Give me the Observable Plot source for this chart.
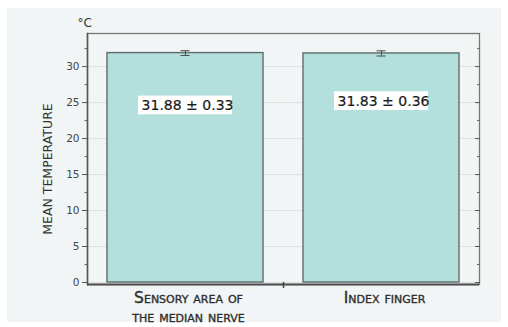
<!DOCTYPE html>
<html>
<head>
<meta charset="utf-8">
<script src="https://cdn.jsdelivr.net/npm/d3@7"></script>
<script src="https://cdn.jsdelivr.net/npm/@observablehq/plot@0.6"></script>
<style>
  html, body { margin: 0; padding: 0; background: #ffffff; }
  #wrap { position: relative; width: 508px; height: 327px; overflow: hidden; }
  #panel { position: absolute; left: 7px; top: 8px; width: 494px; height: 314px; background: #f2f5f5; }
  #chart { position: absolute; left: 0; top: 0; }
  #chart svg { background: transparent !important; }
</style>
</head>
<body>
<div id="wrap"><div id="panel"></div><div id="chart"></div></div>
<script>
// Mean skin temperature (°C) ± SD at two measurement sites
const categories = ["Sensory area of\nthe median nerve", "Index finger"];
const means = [31.88, 31.83];
const sds = [0.33, 0.36];
// vertical position (°C) of each value box inside its bar
const labelAt = [24.6, 25.2];
const yMajor = [0, 5, 10, 15, 20, 25, 30];
const yMinor = [2.5, 7.5, 12.5, 17.5, 22.5, 27.5, 32.5];
const yDomain = [-0.28, 34.6];

const rows = categories.map((c, i) => ({
  cat: c,
  mean: means[i],
  sd: sds[i],
  lo: means[i] - sds[i],
  hi: means[i] + sds[i],
  pos: labelAt[i],
  label: `${means[i].toFixed(2)} ± ${sds[i].toFixed(2)}`
}));

const font = "DejaVu Sans, sans-serif";

const chart = Plot.plot({
  width: 508,
  height: 327,
  marginLeft: 87,
  marginRight: 29,
  marginTop: 33,
  marginBottom: 43,
  style: { fontFamily: font, background: "transparent", overflow: "visible" },
  x: { domain: categories, paddingInner: 0.204, paddingOuter: 0.102, axis: null },
  y: { domain: yDomain, axis: null },
  marks: [
    Plot.gridY(yMajor, { stroke: "#dde2e2", strokeOpacity: 1, strokeWidth: 1 }),
    Plot.barY(rows, { x: "cat", y1: 0, y2: "mean", fill: "#b3dfdc", stroke: "#5e6d6c", strokeWidth: 1.4 }),
    // value boxes
    Plot.barY(rows, { x: "cat", y1: d => d.pos - 1.3, y2: d => d.pos + 1.3, fill: "#ffffff", insetLeft: 31, insetRight: 31 }),
    Plot.text(rows, { x: "cat", y: "pos", text: "label", fontSize: 14, fill: "#1a1a1a", stroke: "#1a1a1a", strokeWidth: 0.2, dx: 2 }),
    // error bars
    Plot.ruleX(rows, { x: "cat", y1: "lo", y2: "hi", stroke: "#4a4a4a", strokeWidth: 1 }),
    Plot.tickY(rows, { x: "cat", y: "lo", stroke: "#4a4a4a", strokeWidth: 1, insetLeft: 73.5, insetRight: 73.5 }),
    Plot.tickY(rows, { x: "cat", y: "hi", stroke: "#4a4a4a", strokeWidth: 1, insetLeft: 73.5, insetRight: 73.5 }),
    // frame
    Plot.frame({ stroke: "#777", strokeWidth: 1.3 }),
    Plot.frame({ anchor: "left", stroke: "#555", strokeWidth: 1.5 }),
    Plot.ruleY([yDomain[0]], { stroke: "#4d4d4d", strokeWidth: 2 }),
    // tick between the two categories on the baseline
    Plot.ruleX([categories[1]], { dx: -98, y1: yDomain[0] + 0.3, y2: yDomain[0] - 0.55, stroke: "#444", strokeWidth: 1.5 }),
    // left axis
    Plot.axisY({ ticks: yMajor, tickSize: 5, tickPadding: 3, fontSize: 10.5, stroke: "#555", fill: "#444", label: null }),
    Plot.axisY({ ticks: yMinor, tickSize: 2.5, text: null, stroke: "#666", label: null }),
    // right axis, ticks pointing inward
    Plot.axisY({ anchor: "right", ticks: yMajor, tickSize: -5, text: null, stroke: "#555", label: null }),
    Plot.axisY({ anchor: "right", ticks: yMinor, tickSize: -3, text: null, stroke: "#666", label: null }),
    // category labels
    Plot.text(rows, { x: "cat", text: "cat", frameAnchor: "bottom", textAnchor: "middle", lineAnchor: "top", dy: 5, dx: 3, fontSize: 15.5, lineHeight: 1.22, fontVariant: "small-caps", fill: "#2e2e2e", stroke: "#2e2e2e", strokeWidth: 0.35 }),
    // axis title and unit
    Plot.text(["MEAN TEMPERATURE"], { frameAnchor: "left", textAnchor: "middle", dx: -40, dy: 10, rotate: -90, fontSize: 12.5, fill: "#333", letterSpacing: "1.1px" }),
    Plot.text(["°C"], { frameAnchor: "top-left", dx: -10, dy: -15, fontSize: 12, fill: "#333" })
  ]
});

document.getElementById("chart").appendChild(chart);
</script>
</body>
</html>
